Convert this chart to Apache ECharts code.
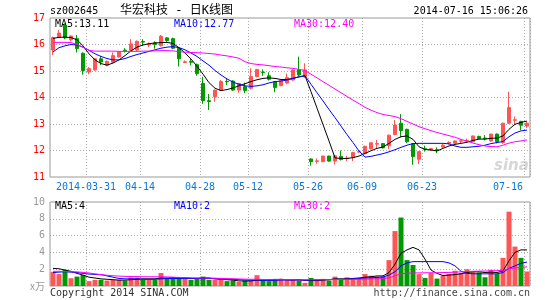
<!DOCTYPE html>
<html><head><meta charset="utf-8">
<script src="https://cdn.jsdelivr.net/npm/echarts@6/dist/echarts.min.js"></script>
<style>html,body{margin:0;padding:0;background:#fff}#c{width:545px;height:300px}</style>
</head><body><div id="c"></div>
<script>
const dates = ['2014-03-21','2014-03-24','2014-03-25','2014-03-26','2014-03-27','2014-03-28',
'2014-03-31','2014-04-01','2014-04-02','2014-04-03','2014-04-04','2014-04-08','2014-04-09','2014-04-10','2014-04-11',
'2014-04-14','2014-04-15','2014-04-16','2014-04-17','2014-04-18','2014-04-21','2014-04-22','2014-04-23','2014-04-24','2014-04-25',
'2014-04-28','2014-04-29','2014-04-30','2014-05-05','2014-05-06','2014-05-07','2014-05-08','2014-05-09',
'2014-05-12','2014-05-13','2014-05-14','2014-05-15','2014-05-16','2014-05-19','2014-05-20','2014-05-21','2014-05-22','2014-05-23',
'2014-05-26','2014-05-27','2014-05-28','2014-05-29','2014-05-30','2014-06-03','2014-06-04','2014-06-05','2014-06-06',
'2014-06-09','2014-06-10','2014-06-11','2014-06-12','2014-06-13','2014-06-16','2014-06-17','2014-06-18','2014-06-19','2014-06-20',
'2014-06-23','2014-06-24','2014-06-25','2014-06-26','2014-06-27','2014-06-30','2014-07-01','2014-07-02','2014-07-03','2014-07-04',
'2014-07-07','2014-07-08','2014-07-09','2014-07-10','2014-07-11','2014-07-14','2014-07-15','2014-07-16'];

const open = [15.79,16.27,16.72,16.18,16.22,15.67,14.96,15.04,15.46,15.22,15.33,15.53,15.79,15.78,15.79,16.11,15.98,16.06,15.96,16.25,
16.22,15.86,15.32,15.36,15.24,14.53,13.88,14.03,14.28,14.61,14.62,14.28,14.41,14.35,14.79,14.96,14.82,14.6,14.45,14.55,
14.66,15.05,14.78,11.68,11.59,11.58,11.79,11.6,11.78,11.69,11.75,11.94,11.88,12.06,12.24,12.26,12.18,12.6,13.03,12.8,
12.26,11.67,12.07,12.02,12.03,12.13,12.27,12.27,12.35,12.35,12.33,12.53,12.47,12.36,12.62,12.3,13.03,13.14,13.1,12.92];
const close = [16.26,16.43,16.25,16.32,15.85,15.02,15.09,15.46,15.34,15.36,15.58,15.72,15.77,16.02,16.12,16.09,16.02,16.0,16.31,16.15,
15.86,15.46,15.35,15.33,14.9,13.88,13.85,14.28,14.6,14.59,14.28,14.53,14.26,14.79,15.06,14.94,14.69,14.38,14.65,14.75,
15.04,14.85,15.04,11.58,11.61,11.79,11.6,11.8,11.66,11.71,11.92,11.96,12.16,12.29,12.26,12.1,12.58,12.96,12.75,12.33,
11.77,11.96,12.05,12.07,12.01,12.2,12.31,12.36,12.37,12.38,12.55,12.45,12.45,12.62,12.33,13.03,13.62,13.16,12.95,13.03];
const low = [15.6,16.25,16.2,16.12,15.7,14.86,14.88,15.02,15.22,15.18,15.3,15.5,15.7,15.72,15.76,15.96,15.9,15.85,15.92,16.1,
15.82,15.17,15.3,15.21,14.82,13.76,13.53,13.84,14.25,14.47,14.25,14.18,14.16,14.3,14.76,14.82,14.64,14.2,14.42,14.5,
14.63,14.8,14.74,11.43,11.5,11.56,11.58,11.47,11.62,11.6,11.6,11.9,11.86,12.04,12.08,12.08,12.06,12.58,12.5,12.28,
11.46,11.49,11.96,12.0,11.9,12.1,12.22,12.25,12.27,12.3,12.32,12.43,12.38,12.34,12.27,12.25,13.0,12.98,12.77,12.85];
const high = [16.3,16.55,16.8,16.35,16.36,15.7,15.15,15.48,15.56,15.4,15.7,15.75,15.86,16.2,16.15,16.2,16.08,16.12,16.36,16.28,
16.26,15.9,15.4,15.46,15.28,14.78,14.13,14.3,14.66,14.72,14.65,14.55,14.56,15.1,15.08,15.06,14.95,14.62,14.68,14.9,
15.06,15.54,15.29,11.7,11.7,11.8,11.8,11.82,12.0,11.8,11.95,12.0,12.18,12.3,12.4,12.28,12.6,13.15,13.37,12.82,
12.28,11.98,12.18,12.1,12.12,12.26,12.35,12.38,12.43,12.45,12.56,12.56,12.58,12.63,12.64,13.05,14.22,13.28,13.12,13.09];

const ma5 = [16.23,16.27,16.28,16.26,16.18,15.95,15.65,15.42,15.28,15.22,15.3,15.42,15.58,15.76,15.9,15.98,16.03,16.06,16.07,16.08,
16.04,15.88,15.68,15.45,15.18,14.88,14.56,14.35,14.26,14.3,14.36,14.44,14.52,14.6,14.67,14.72,14.74,14.72,14.68,14.68,
14.72,14.78,14.82,14.22,13.6,12.98,12.36,11.72,11.7,11.7,11.73,11.79,11.89,11.99,12.08,12.13,12.27,12.42,12.52,12.55,
12.42,12.14,12.04,12.02,11.98,12.08,12.17,12.23,12.27,12.31,12.38,12.43,12.43,12.46,12.47,12.55,12.8,12.99,13.06,13.11];
const ma10 = [15.72,15.88,15.95,16.0,15.98,15.9,15.78,15.65,15.55,15.47,15.42,15.42,15.47,15.55,15.62,15.68,15.74,15.8,15.86,15.9,
15.92,15.88,15.8,15.68,15.55,15.38,15.22,15.02,14.85,14.7,14.58,14.5,14.44,14.42,14.44,14.48,14.55,14.6,14.62,14.66,
14.72,14.78,14.82,14.5,14.18,13.87,13.55,13.24,12.92,12.6,12.3,11.98,11.75,11.78,11.83,11.88,11.95,12.03,12.12,12.2,
12.26,12.27,12.27,12.27,12.27,12.27,12.25,12.17,12.12,12.12,12.14,12.16,12.2,12.26,12.3,12.34,12.52,12.66,12.74,12.77];
const ma30 = [16.08,16.08,16.08,16.07,16.0,15.9,15.78,15.75,15.75,15.75,15.75,15.74,15.74,15.74,15.74,15.75,15.75,15.76,15.77,15.77,
15.76,15.73,15.71,15.7,15.69,15.68,15.66,15.64,15.6,15.57,15.53,15.48,15.35,15.28,15.25,15.23,15.2,15.17,15.15,15.12,
15.1,15.06,15.02,14.88,14.74,14.6,14.46,14.32,14.18,14.04,13.9,13.77,13.63,13.52,13.43,13.36,13.32,13.28,13.2,13.1,
13.0,12.9,12.82,12.75,12.68,12.62,12.56,12.5,12.42,12.35,12.28,12.22,12.17,12.15,12.14,12.2,12.28,12.33,12.36,12.4];

const volume = [1.69,1.42,1.92,0.92,1.12,1.31,0.58,0.73,0.73,0.65,0.73,0.73,0.65,1.0,1.0,0.73,0.73,0.73,1.55,0.85,
0.85,1.04,0.85,0.73,0.85,1.12,0.73,0.73,0.85,0.58,0.65,0.48,0.65,0.65,1.29,0.65,0.58,0.85,0.85,0.65,
0.73,0.65,0.38,0.96,0.73,0.85,0.65,1.12,0.73,1.04,0.96,0.96,1.42,1.23,1.12,1.12,3.08,6.54,8.15,3.08,
2.5,1.42,0.96,1.54,0.88,1.23,1.42,1.81,1.54,2.0,1.73,1.62,1.04,1.92,1.42,3.35,8.85,4.69,3.35,1.73];
const volMa5 = [2.1,2.05,1.9,1.75,1.5,1.3,1.05,0.95,0.85,0.8,0.75,0.7,0.7,0.75,0.8,0.85,0.85,0.85,0.95,0.95,
1.0,1.0,1.0,0.9,0.9,0.95,0.95,0.85,0.8,0.75,0.7,0.6,0.6,0.6,0.7,0.7,0.75,0.75,0.8,0.7,
0.7,0.75,0.65,0.65,0.65,0.7,0.75,0.85,0.85,0.85,0.9,0.95,1.05,1.1,1.2,1.2,1.6,2.6,3.9,4.3,
4.6,4.3,3.2,1.9,1.5,1.25,1.3,1.35,1.45,1.6,1.7,1.7,1.6,1.65,1.6,1.8,3.0,4.0,4.3,4.3];
const volMa10 = [1.6,1.65,1.7,1.65,1.6,1.5,1.42,1.38,1.35,1.2,1.05,0.9,0.85,0.85,0.85,0.8,0.8,0.8,0.85,0.88,
0.9,0.9,0.9,0.9,0.9,0.92,0.9,0.88,0.85,0.82,0.8,0.75,0.72,0.7,0.7,0.68,0.66,0.66,0.7,0.72,
0.72,0.72,0.7,0.72,0.73,0.75,0.76,0.8,0.8,0.82,0.85,0.9,0.95,0.98,1.02,1.08,1.3,1.7,2.4,2.75,
2.9,2.9,2.9,2.9,2.9,2.9,2.75,2.4,1.75,1.5,1.45,1.45,1.45,1.45,1.45,1.6,2.1,2.4,2.7,2.85];
const volMa30 = [1.75,1.75,1.72,1.7,1.68,1.62,1.55,1.45,1.35,1.28,1.22,1.18,1.15,1.12,1.12,1.1,1.1,1.1,1.1,1.08,
1.05,1.02,1.0,0.98,0.96,0.95,0.95,0.93,0.9,0.88,0.86,0.84,0.82,0.8,0.8,0.78,0.76,0.75,0.75,0.74,
0.74,0.74,0.74,0.74,0.74,0.75,0.76,0.77,0.78,0.79,0.8,0.8,0.82,0.84,0.86,0.88,0.98,1.2,1.45,1.52,
1.55,1.56,1.57,1.58,1.58,1.6,1.62,1.65,1.68,1.72,1.75,1.77,1.78,1.8,1.82,1.88,2.05,2.15,2.22,2.27];

const tickDates = ['2014-03-31','2014-04-14','2014-04-28','2014-05-12','2014-05-26','2014-06-09','2014-06-23','2014-07-16'];
const tickTexts = ['2014-03-31','04-14','04-28','05-12','05-26','06-09','06-23','07-16'];

const RED = '#ff5555', GREEN = '#009900';
const mono = '"DejaVu Sans Mono","Liberation Mono",monospace';
const tickIdx = tickDates.map(d => dates.indexOf(d));
const isTick = i => tickIdx.indexOf(i) >= 0;
const dotted = {color:'#aaaaaa', type:[1,2], width:1};

const chart = echarts.init(document.getElementById('c'), null, {renderer:'canvas'});
const lbl = {color:'#0a78d2', fontFamily:mono, fontSize:10};
const lineS = (name, data, color, xi) => ({type:'line', name, data, xAxisIndex:xi, yAxisIndex:xi, symbol:'none',
  lineStyle:{color, width:1}, z:5, silent:true});
const txt = (x, y, t, color, align) => ({type:'text', left:undefined, x, y, style:{text:t, fill:color, font:'10px ' + mono, textAlign:align||'left', textVerticalAlign:'middle'}});

chart.setOption({
  animation:false,
  backgroundColor:'#fff',
  grid:[
    {left:50, right:15, top:18, height:159, show:true, borderColor:'#999', borderWidth:1},
    {left:50, right:15, top:202, height:84, show:true, borderColor:'#999', borderWidth:1}
  ],
  xAxis:[
    {type:'category', gridIndex:0, data:dates, boundaryGap:true, axisLine:{show:false}, axisTick:{show:false},
     splitLine:{show:true, interval:(i)=>isTick(i), lineStyle:dotted},
     axisLabel:{interval:(i)=>isTick(i), margin:5,
       formatter:(v,i)=>{const k=tickIdx.indexOf(i); return (k===tickIdx.length-1?'{e|':'{n|')+tickTexts[k]+'}';},
       rich:{n:Object.assign({padding:[0,6,0,0]},lbl), e:Object.assign({padding:[0,38,0,0]},lbl)}}},
    {type:'category', gridIndex:1, data:dates, boundaryGap:true, axisLine:{show:false}, axisTick:{show:false},
     axisLabel:{show:false}, splitLine:{show:true, interval:(i)=>isTick(i), lineStyle:dotted}}
  ],
  yAxis:[
    {type:'value', gridIndex:0, min:11, max:17, interval:1, axisLine:{show:false}, axisTick:{show:false},
     axisLabel:{color:'#ff0000', margin:5, fontFamily:mono, fontSize:10},
     splitLine:{show:true, showMinLine:false, showMaxLine:false, lineStyle:dotted}},
    {type:'value', gridIndex:1, min:0, max:10, interval:2, axisLine:{show:false}, axisTick:{show:false},
     axisLabel:{color:'#999', margin:5, fontFamily:mono, fontSize:10, formatter:v=>v===0?'':String(v)},
     splitLine:{show:true, showMinLine:false, showMaxLine:false, lineStyle:dotted}}
  ],
  series:[
    {type:'candlestick', xAxisIndex:0, yAxisIndex:0, barWidth:4,
     data: dates.map((d,i)=>[open[i], close[i], low[i], high[i]]),
     itemStyle:{color:RED, color0:GREEN, borderColor:RED, borderColor0:GREEN, borderWidth:1}},
    lineS('MA5', ma5, '#000000', 0),
    lineS('MA10', ma10, '#0000ff', 0),
    lineS('MA30', ma30, '#ff00ff', 0),
    {type:'bar', xAxisIndex:1, yAxisIndex:1, barWidth:5,
     data: volume.map((v,i)=>({value:v, itemStyle:{color: close[i] > open[i] ? RED : GREEN}}))},
    lineS('VMA5', volMa5, '#000000', 1),
    lineS('VMA10', volMa10, '#0000ff', 1),
    lineS('VMA30', volMa30, '#ff00ff', 1)
  ],
  graphic:[
    txt(50, 11, 'sz002645', '#000'),
    {type:'text', x:120, y:11, style:{text:'华宏科技 - 日K线图', fill:'#000', font:'12px "DejaVu Sans Mono","Noto Sans CJK SC",monospace', textVerticalAlign:'middle'}},
    txt(528, 11, '2014-07-16 15:06:26', '#000', 'right'),
    txt(55, 24, 'MA5:13.11', '#000'),
    txt(174, 24, 'MA10:12.77', '#0000ff'),
    txt(294, 24, 'MA30:12.40', '#ff00ff'),
    txt(55, 206, 'MA5:4', '#000'),
    txt(174, 206, 'MA10:2', '#0000ff'),
    txt(294, 206, 'MA30:2', '#ff00ff'),
    txt(50, 293, 'Copyright 2014 SINA.COM', '#333'),
    txt(530, 293, 'http://finance.sina.com.cn', '#444', 'right'),
    {type:'text', x:30, y:286, style:{text:'x万', fill:'#999', font:'10px "Noto Sans CJK SC",sans-serif', textVerticalAlign:'middle'}},
    {type:'text', x:494, y:166, z:-1, style:{text:'sina', fill:'#d6d6d6', font:'italic bold 15px "DejaVu Sans",sans-serif', textVerticalAlign:'middle'}}
  ]
});
</script></body></html>
